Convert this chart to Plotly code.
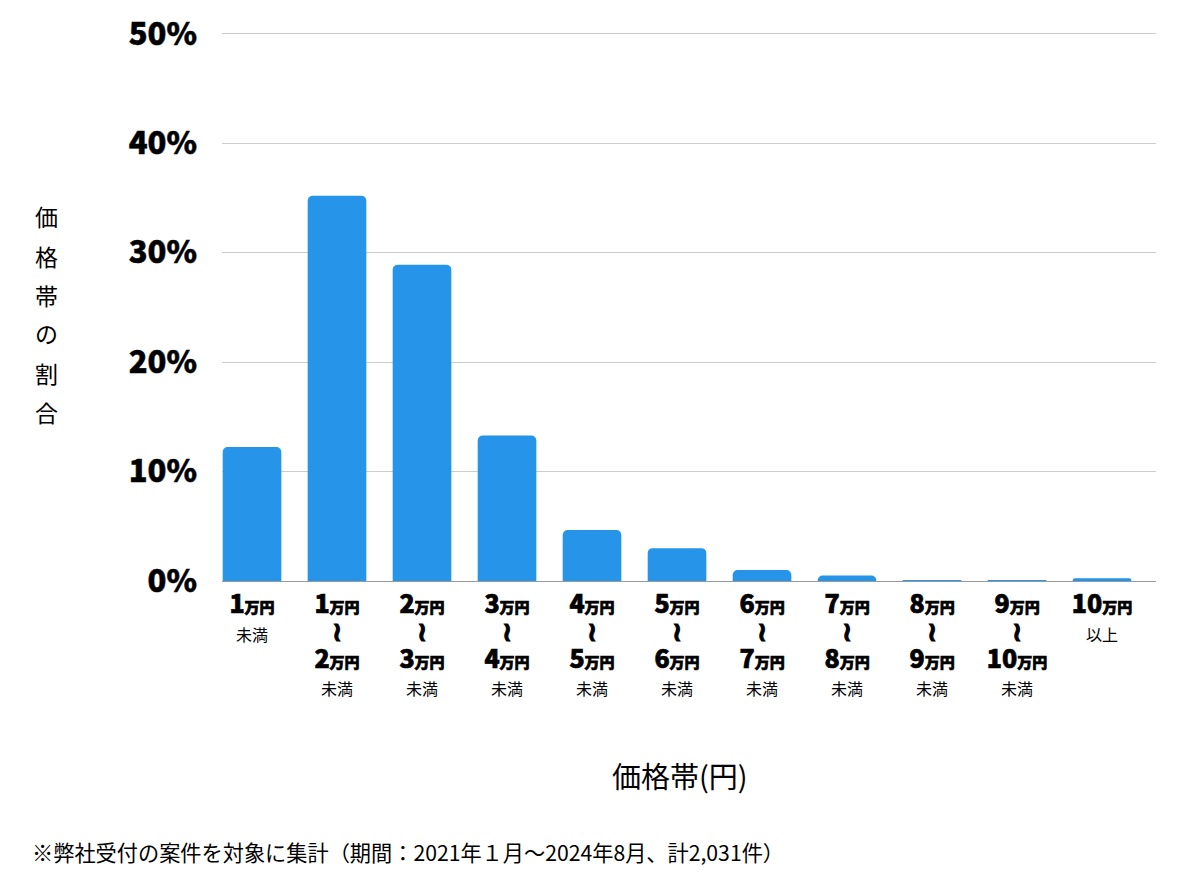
import plotly.graph_objects as go

categories = ["1万円未満", "1-2万円", "2-3万円", "3-4万円", "4-5万円", "5-6万円",
              "6-7万円", "7-8万円", "8-9万円", "9-10万円", "10万円以上"]
values = [12.25, 35.2, 28.9, 13.3, 4.66, 3.0, 1.0, 0.5, 0.05, 0.05, 0.25]
low_nums = ["1", "1", "2", "3", "4", "5", "6", "7", "8", "9", "10"]
high_nums = [None, "2", "3", "4", "5", "6", "7", "8", "9", "10", None]
suffixes = ["未満", "未満", "未満", "未満", "未満", "未満", "未満", "未満", "未満", "未満", "以上"]
wave_char = "≀"
y_ticks = [0, 10, 20, 30, 40, 50]
y_title_chars = ["価", "格", "帯", "の", "割", "合"]
x_title = "価格帯(円)"
footnote = "※弊社受付の案件を対象に集計（期間：2021年１月～2024年8月、計2,031件）"

FONT = "Noto Sans CJK JP"
BAR_COLOR = "#2694E8"
HEAVY = "font-weight:900;stroke:black;stroke-width:0.7px"


def tick_label(lo, hi, suf):
    big = lambda n: (f"<span style='font-size:25px;{HEAVY}'>{n}</span>"
                     f"<span style='font-size:15px;{HEAVY}'>万円</span>")
    small = f"<span style='font-size:16px;font-weight:400'>{suf}</span>"
    wave = ("<span style='font-family:DejaVu Sans;font-size:27px;"
            "font-weight:bold;stroke:black;stroke-width:1px'>" + wave_char + "</span>")
    if hi is None:
        return big(lo) + "<br>" + small
    return big(lo) + "<br>" + wave + "<br>" + big(hi) + "<br>" + small


ticktext = [tick_label(l, h, s) for l, h, s in zip(low_nums, high_nums, suffixes)]

fig = go.Figure(go.Bar(
    x=categories, y=values, width=0.69,
    marker=dict(color=BAR_COLOR, line=dict(width=0)),
    hoverinfo="skip",
))

fig.update_layout(
    width=1200, height=874,
    margin=dict(l=222, r=44, t=31, b=293, autoexpand=False),
    paper_bgcolor="white", plot_bgcolor="white",
    barcornerradius=5,
    showlegend=False,
    font=dict(family=FONT, color="black"),
)

fig.update_xaxes(
    type="category", range=[-0.353, 10.635],
    tickmode="array", tickvals=categories, ticktext=ticktext,
    tickfont=dict(family=FONT, size=21, color="black"),
    showgrid=False, showline=True, linecolor="#999999", linewidth=1,
    ticks="", ticklabelstandoff=6, automargin=False,
)
fig.update_yaxes(
    range=[0, 50.25], tickmode="array", tickvals=y_ticks,
    ticktext=[f"<span style='stroke:black;stroke-width:0.5px'>{v}%</span>" for v in y_ticks],
    tickfont=dict(family=FONT, size=31, color="black", weight=900),
    showgrid=True, gridcolor="#cccccc", gridwidth=1,
    zeroline=False, showline=False, ticks="", ticklabelstandoff=24,
    automargin=False,
)

annotations = []
y_centers_px = [216, 256, 295, 333, 373, 412]
plot_top, plot_h = 31, 874 - 31 - 293
for ch, ypx in zip(y_title_chars, y_centers_px):
    annotations.append(dict(
        text=ch, xref="paper", yref="paper",
        x=(46 - 222) / (1200 - 222 - 44), y=1 - (ypx - plot_top) / plot_h,
        showarrow=False, font=dict(family=FONT, size=23, color="black"),
        xanchor="center", yanchor="middle",
    ))
annotations.append(dict(
    text=x_title, xref="paper", yref="paper",
    x=(680 - 222) / (1200 - 222 - 44), y=1 - (775 - plot_top) / plot_h,
    showarrow=False, font=dict(family=FONT, size=29, color="black"),
    xanchor="center", yanchor="middle",
))
annotations.append(dict(
    text=footnote, xref="paper", yref="paper",
    x=(30 - 222) / (1200 - 222 - 44), y=1 - (851 - plot_top) / plot_h,
    showarrow=False, font=dict(family=FONT, size=21.2, color="black"),
    xanchor="left", yanchor="middle",
))
fig.update_layout(annotations=annotations)

fig.write_html("out.html")
